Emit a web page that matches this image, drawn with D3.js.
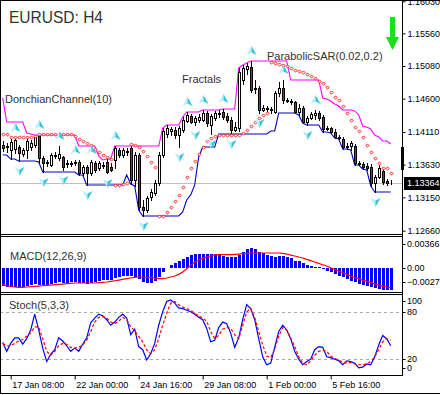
<!DOCTYPE html>
<html lang="en">
<head>
    <meta charset="UTF-8">
    <title>EURUSD: H4</title>
    <style>
        body { margin: 0; background: #fff; }
        svg { display: block; font-family: "Liberation Sans", Arial, sans-serif; }
    </style>
</head>
<body>

    <div id="chart"></div>

    <script src="https://d3js.org/d3.v7.min.js"></script>
    <script>

    // ---- data (H4 bars, 17 Jan 00:00 .. 8 Feb 00:00) ----
    const tickBars = [2, 18, 34, 50, 66, 82];
    const tickLabels = ["17 Jan 08:00", "22 Jan 00:00", "24 Jan 16:00", "29 Jan 08:00", "1 Feb 00:00", "5 Feb 16:00"];

    const open = [1.13919,1.13890,1.13846,1.13860,1.13890,1.13787,1.13846,1.13890,1.13919,1.14051,
        1.13728,1.13655,1.13625,1.13772,1.13728,1.13743,1.13640,1.13655,1.13655,1.13669,
        1.13508,1.13596,1.13508,1.13655,1.13581,1.13625,1.13669,1.13596,1.13699,1.13846,
        1.13772,1.13831,1.13875,1.13405,1.13772,1.13009,1.12965,1.13155,1.13214,1.13361,
        1.13772,1.14081,1.14125,1.14139,1.14066,1.14139,1.14272,1.14345,1.14257,1.14287,
        1.14287,1.14389,1.14213,1.14316,1.14375,1.14404,1.14345,1.14287,1.14139,1.14169,
        1.14874,1.15035,1.15065,1.14742,1.14756,1.14433,1.14463,1.14448,1.14404,1.14683,
        1.14756,1.14580,1.14566,1.14551,1.14404,1.14463,1.14257,1.14316,1.14360,1.14389,
        1.14331,1.14154,1.14169,1.14110,1.14037,1.14007,1.13890,1.13904,1.13904,1.13655,
        1.13640,1.13611,1.13596,1.13361,1.13449,1.13537,1.13390,1.13361];
    const high = [1.13978,1.13949,1.14007,1.14022,1.13919,1.13875,1.14022,1.13993,1.14037,1.14066,
        1.13758,1.13699,1.13802,1.13816,1.13904,1.13758,1.13699,1.13684,1.13699,1.13699,
        1.13625,1.13625,1.13699,1.13684,1.13684,1.13669,1.13713,1.13655,1.13904,1.13875,
        1.13875,1.13875,1.13904,1.13816,1.13802,1.13111,1.13170,1.13273,1.13405,1.13816,
        1.14169,1.14213,1.14184,1.14184,1.14198,1.14331,1.14404,1.14375,1.14345,1.14375,
        1.14433,1.14419,1.14375,1.14419,1.14433,1.14448,1.14389,1.14331,1.14257,1.15050,
        1.15094,1.15124,1.15153,1.14874,1.14786,1.14507,1.14492,1.14477,1.14712,1.14845,
        1.14874,1.14610,1.14595,1.14566,1.14521,1.14492,1.14345,1.14404,1.14433,1.14419,
        1.14360,1.14198,1.14184,1.14154,1.14066,1.14037,1.13949,1.13978,1.13934,1.13684,
        1.13669,1.13655,1.13640,1.13478,1.13625,1.13567,1.13420,1.13405];
    const low = [1.13831,1.13816,1.13713,1.13802,1.13684,1.13758,1.13728,1.13846,1.13890,1.13669,
        1.13523,1.13611,1.13611,1.13728,1.13699,1.13552,1.13596,1.13611,1.13625,1.13478,
        1.13478,1.13332,1.13478,1.13523,1.13552,1.13581,1.13508,1.13537,1.13581,1.13743,
        1.13743,1.13772,1.13346,1.13317,1.12965,1.12876,1.12935,1.13111,1.13185,1.13332,
        1.13743,1.14037,1.14066,1.14022,1.13890,1.14110,1.14257,1.14242,1.14213,1.14257,
        1.14272,1.14198,1.14081,1.14287,1.14331,1.14301,1.14257,1.14081,1.14125,1.14125,
        1.14815,1.14962,1.14698,1.14683,1.14389,1.14419,1.14404,1.14389,1.14389,1.14639,
        1.14536,1.14551,1.14521,1.14389,1.14360,1.14242,1.14213,1.14301,1.14301,1.14287,
        1.14110,1.14139,1.14095,1.14022,1.14007,1.13860,1.13860,1.13846,1.13625,1.13625,
        1.13567,1.13552,1.13317,1.13229,1.13434,1.13346,1.13332,1.13346];
    const close = [1.13875,1.13904,1.13963,1.13993,1.13802,1.13846,1.13978,1.13949,1.14037,1.13728,
        1.13655,1.13669,1.13772,1.13758,1.13787,1.13596,1.13655,1.13640,1.13669,1.13508,
        1.13596,1.13508,1.13669,1.13552,1.13655,1.13611,1.13523,1.13552,1.13875,1.13772,
        1.13846,1.13816,1.13405,1.13772,1.13009,1.12965,1.13141,1.13229,1.13361,1.13772,
        1.14125,1.14169,1.14154,1.14066,1.14169,1.14287,1.14360,1.14257,1.14316,1.14331,
        1.14389,1.14242,1.14345,1.14389,1.14389,1.14331,1.14287,1.14139,1.14184,1.14991,
        1.15050,1.15080,1.14727,1.14756,1.14433,1.14463,1.14448,1.14433,1.14683,1.14756,
        1.14580,1.14566,1.14551,1.14404,1.14463,1.14257,1.14316,1.14375,1.14389,1.14316,
        1.14154,1.14169,1.14110,1.14037,1.14022,1.13890,1.13904,1.13949,1.13655,1.13640,
        1.13596,1.13581,1.13361,1.13449,1.13581,1.13376,1.13361,1.13364];

    // 9 bars before the first one, only needed for the channel
    const preHigh = [1.14610,1.14169,1.14139,1.14169,1.14139,1.14257,1.14095,1.14081,1.14066];
    const preLow = [1.13846,1.13816,1.13772,1.13875,1.13919,1.13846,1.13890,1.13816,1.13846];

    const sar = [1.14081,1.14081,1.14037,1.14037,1.14037,1.14037,1.14037,1.14037,1.14051,1.14081,
        1.14081,1.14081,1.14081,1.14081,1.14081,1.14081,1.14081,1.14081,1.14051,1.14007,
        1.13978,1.13949,1.13919,1.13860,1.13816,1.13772,1.13743,1.13706,1.13332,1.13332,
        1.13339,1.13354,1.13934,1.13919,1.13890,1.13831,1.13758,1.13669,1.13596,1.12869,
        1.12880,1.12939,1.13013,1.13089,1.13185,1.13307,1.13454,1.13577,1.13691,1.13787,
        1.13890,1.13978,1.14029,1.14051,1.14059,1.14066,1.14066,1.14066,1.14066,1.14073,
        1.14095,1.14139,1.14198,1.14257,1.14316,1.14360,1.14382,1.15138,1.15124,1.15109,
        1.15094,1.15080,1.15050,1.15028,1.15010,1.14987,1.14962,1.14937,1.14899,1.14866,
        1.14834,1.14775,1.14702,1.14628,1.14580,1.14492,1.14389,1.14287,1.14188,1.14125,
        1.14037,1.13919,1.13816,1.13724,1.13659,1.13577,1.13577,1.13507];

    const fractalUp = [3, 9, 14, 18, 22, 28, 46, 50, 55, 62, 70, 78];
    const fractalDown = [4, 10, 15, 21, 26, 35, 44, 48, 52, 57, 64, 76, 93];

    const macd = [-0.00216,-0.00224,-0.00224,-0.00224,-0.00228,-0.00224,-0.00216,-0.00205,-0.00193,-0.00197,
        -0.00205,-0.00197,-0.00185,-0.00177,-0.00169,-0.00173,-0.00173,-0.00169,-0.00165,-0.00173,
        -0.00177,-0.00185,-0.00177,-0.00169,-0.00157,-0.00146,-0.00146,-0.00146,-0.00118,-0.00106,
        -0.00094,-0.00091,-0.00098,-0.00106,-0.00134,-0.00165,-0.00177,-0.00173,-0.00153,-0.00106,
        -0.00047,0.00004,0.00031,0.00059,0.00083,0.00110,0.00134,0.00150,0.00161,0.00165,
        0.00169,0.00169,0.00165,0.00161,0.00157,0.00146,0.00134,0.00126,0.00126,0.00157,
        0.00193,0.00224,0.00232,0.00224,0.00193,0.00173,0.00157,0.00142,0.00134,0.00138,
        0.00138,0.00126,0.00114,0.00087,0.00079,0.00055,0.00035,0.00020,0.00016,0.00008,
        -0.00012,-0.00031,-0.00051,-0.00071,-0.00091,-0.00110,-0.00130,-0.00150,-0.00169,-0.00189,
        -0.00201,-0.00209,-0.00228,-0.00240,-0.00248,-0.00256,-0.00260,-0.00260];
    const signal = [-0.00193,-0.00209,-0.00220,-0.00224,-0.00228,-0.00228,-0.00224,-0.00220,-0.00216,-0.00213,
        -0.00209,-0.00205,-0.00201,-0.00197,-0.00193,-0.00189,-0.00185,-0.00181,-0.00177,-0.00177,
        -0.00177,-0.00177,-0.00177,-0.00177,-0.00173,-0.00169,-0.00165,-0.00157,-0.00150,-0.00142,
        -0.00134,-0.00126,-0.00118,-0.00110,-0.00106,-0.00106,-0.00110,-0.00114,-0.00118,-0.00126,
        -0.00126,-0.00118,-0.00106,-0.00094,-0.00075,-0.00047,-0.00008,0.00031,0.00067,0.00094,
        0.00114,0.00130,0.00142,0.00154,0.00157,0.00157,0.00157,0.00157,0.00161,0.00165,
        0.00169,0.00173,0.00177,0.00177,0.00177,0.00177,0.00177,0.00177,0.00177,0.00177,
        0.00173,0.00165,0.00153,0.00142,0.00130,0.00118,0.00102,0.00087,0.00071,0.00055,
        0.00039,0.00024,0.00004,-0.00016,-0.00035,-0.00055,-0.00075,-0.00094,-0.00110,-0.00126,
        -0.00142,-0.00157,-0.00173,-0.00189,-0.00201,-0.00213,-0.00224,-0.00232];

    const stochK = [41,30,40,47,47,39,46,57,77,57, 34,17,26,32,47,43,37,30,34,30,
        39,47,66,72,77,75,70,63,67,73, 77,72,51,58,36,32,19,27,40,63,
        80,93,95,91,85,84,82,80,77,73, 70,59,42,44,60,67,65,53,35,47,
        70,89,84,70,46,23,13,15,35,55, 63,57,46,30,20,13,17,20,32,36,
        35,23,22,20,18,13,18,17,15,9, 10,14,13,23,38,50,46,37];
    const stochD = [40,37,37,40,43,45,49,53,61,61, 46,30,25,30,37,40,39,35,34,35,
        38,44,55,67,73,74,72,67,65,68, 73,70,61,56,49,42,32,27,32,46,
        63,78,91,93,89,86,84,82,78,75, 72,68,55,46,50,58,60,59,51,46,
        63,80,84,73,55,38,24,22,33,49, 60,57,47,36,23,15,13,18,25,30,
        31,30,24,21,19,16,15,16,14,13, 13,14,17,23,32,42,46,44];

    const priceTicks = [1.16030, 1.15560, 1.15080, 1.14600, 1.14110, 1.13630, 1.13150, 1.12660];
    const lastPrice = 1.13364;
    const macdTicks = [0.00366, 0, -0.00277];
    const stochTicks = [100, 80, 20, 0];
    const stochLevels = [80, 20];

    // ---- set up the page ----
    const width = 440, height = 395;
    const axisX = 402.5;

    const svg = d3.select("#chart")
        .append("svg")
        .attr("width", width)
        .attr("height", height);

    svg.append("rect").attr("width", width).attr("height", height).attr("fill", "#fff");

    // scales
    const x = d3.scaleLinear().domain([0, 97]).range([2.7, 390.7]);
    const y = d3.scaleLinear().domain([1.126115, 1.160492]).range([234, 0]);
    const yMacd = d3.scaleLinear().domain([-0.00277, 0.00366]).range([291.5, 237]);
    const yStoch = d3.scaleLinear().domain([0, 100]).range([375, 296]);

    const px = v => Math.round(v);

    // clip each panel
    const defs = svg.append("defs");
    [["clipPrice", 0, 235], ["clipMacd", 237, 55], ["clipStoch", 295, 80]].forEach(c => {
        defs.append("clipPath").attr("id", c[0])
            .append("rect").attr("x", 1).attr("y", c[1]).attr("width", 401).attr("height", c[2]);
    });

    // ---- price panel ----
    const gPrice = svg.append("g").attr("clip-path", "url(#clipPrice)");

    // last price line
    gPrice.append("line")
        .attr("x1", 0).attr("x2", axisX)
        .attr("y1", px(y(lastPrice)) + 0.5).attr("y2", px(y(lastPrice)) + 0.5)
        .attr("stroke", "#c0c0c0");

    // donchian channel (10)
    const allHigh = preHigh.concat(high), allLow = preLow.concat(low);
    const dcUpper = high.map((d, i) => d3.max(allHigh.slice(i, i + 10)));
    const dcLower = low.map((d, i) => d3.min(allLow.slice(i, i + 10)));

    const priceLine = d3.line().x((d, i) => x(i)).y(d => y(d));
    gPrice.append("path").attr("d", priceLine(dcUpper))
        .attr("fill", "none").attr("stroke", "#ff00ff").attr("stroke-width", 1.1);
    gPrice.append("path").attr("d", priceLine(dcLower))
        .attr("fill", "none").attr("stroke", "#0000cc").attr("stroke-width", 1.1);

    // candles
    const bars = d3.range(open.length);
    const candle = gPrice.append("g").selectAll("g")
        .data(bars)
        .join("g");

    candle.append("line")
        .attr("x1", i => px(x(i)) + 0.5).attr("x2", i => px(x(i)) + 0.5)
        .attr("y1", i => px(y(high[i]))).attr("y2", i => px(y(low[i])) + 1)
        .attr("stroke", "#000");

    candle.append("rect")
        .attr("x", i => px(x(i)) - 0.5)
        .attr("width", 2)
        .attr("y", i => px(y(Math.max(open[i], close[i]))) + 0.5)
        .attr("height", i => Math.max(0, px(y(Math.min(open[i], close[i]))) - px(y(Math.max(open[i], close[i])))))
        .attr("fill", i => close[i] < open[i] ? "#ff0000" : "#ffffff")
        .attr("stroke", "#000")
        .attr("shape-rendering", "crispEdges");

    // parabolic sar
    gPrice.append("g").selectAll("path")
        .data(sar)
        .join("path")
        .attr("transform", (d, i) => `translate(${px(x(i)) + 0.5},${px(y(d)) + 0.5})`)
        .attr("d", "M0,-1.6L1.6,0L0,1.6L-1.6,0Z")
        .attr("fill", "#fff")
        .attr("stroke", "#ff0000")
        .attr("stroke-width", 0.9);

    // fractals
    const upArrow = [["M0,-5L-5,4L0,1.5Z", "#b8f0f6"], ["M0,-5L5,4L0,1.5Z", "#34c6d8"]];
    const downArrow = [["M0,5L-5,-4L0,-1.5Z", "#b8f0f6"], ["M0,5L5,-4L0,-1.5Z", "#34c6d8"]];

    const fUp = gPrice.append("g").selectAll("g")
        .data(fractalUp).join("g")
        .attr("transform", i => `translate(${px(x(i)) + 0.5},${y(high[i]) - 10})`);
    upArrow.forEach(p => fUp.append("path").attr("d", p[0]).attr("fill", p[1]));

    const fDown = gPrice.append("g").selectAll("g")
        .data(fractalDown).join("g")
        .attr("transform", i => `translate(${px(x(i)) + 0.5},${y(low[i]) + 10})`);
    downArrow.forEach(p => fDown.append("path").attr("d", p[0]).attr("fill", p[1]));

    // price axis
    svg.append("g")
        .attr("transform", `translate(${axisX},0)`)
        .call(d3.axisRight(y).tickValues(priceTicks).tickFormat(d3.format(".5f")).tickSize(3).tickPadding(2).tickSizeOuter(0))
        .call(g => g.select(".domain").remove())
        .attr("font-family", "Liberation Sans, Arial, sans-serif")
        .attr("font-size", 9)
        .selectAll("text").attr("fill", "#000");

    // last price box
    svg.append("rect")
        .attr("x", 404).attr("y", px(y(lastPrice)) - 6)
        .attr("width", 40).attr("height", 13)
        .attr("fill", "#000");
    svg.append("text")
        .attr("x", 407).attr("y", y(lastPrice)).attr("dy", "0.35em")
        .attr("font-size", 9).attr("fill", "#fff")
        .text(d3.format(".5f")(lastPrice));

    // black marker on the scale
    svg.append("rect").attr("x", 401).attr("y", 147).attr("width", 3).attr("height", 23).attr("fill", "#000");

    // green arrow
    svg.append("path")
        .attr("d", "M390,17H395V37H399L392.5,50L386,37H390Z")
        .attr("fill", "#1adf1a");

    // ---- macd panel ----
    const gMacd = svg.append("g").attr("clip-path", "url(#clipMacd)");

    gMacd.append("g").selectAll("rect")
        .data(macd)
        .join("rect")
        .attr("x", (d, i) => px(x(i)) - 1)
        .attr("width", 3)
        .attr("y", d => Math.min(yMacd(d), yMacd(0)))
        .attr("height", d => Math.abs(yMacd(d) - yMacd(0)))
        .attr("fill", "#0000ff")
        .attr("shape-rendering", "crispEdges");

    gMacd.append("path")
        .attr("d", d3.line().x((d, i) => x(i)).y(d => yMacd(d))(signal))
        .attr("fill", "none").attr("stroke", "#ff0000").attr("stroke-width", 1.2);

    macdTicks.forEach((t, k) => {
        const ty = yMacd(t) + [6.5, 0, -9.5][k];
        svg.append("line").attr("x1", axisX).attr("x2", axisX + 3)
            .attr("y1", px(ty) + 0.5).attr("y2", px(ty) + 0.5).attr("stroke", "#000");
        svg.append("text").attr("x", 407).attr("y", ty).attr("dy", "0.35em")
            .attr("font-size", 9).attr("fill", "#000")
            .text(t === 0 ? "0.00" : d3.format(".5f")(t));
    });

    // ---- stochastic panel ----
    const gStoch = svg.append("g").attr("clip-path", "url(#clipStoch)");

    stochLevels.forEach(l => {
        gStoch.append("line")
            .attr("x1", 0).attr("x2", axisX)
            .attr("y1", px(yStoch(l)) + 0.5).attr("y2", px(yStoch(l)) + 0.5)
            .attr("stroke", "#a8a8a8").attr("stroke-dasharray", "3,3");
    });

    const stochLine = d3.line().x((d, i) => x(i)).y(d => yStoch(d));
    gStoch.append("path").attr("d", stochLine(stochK))
        .attr("fill", "none").attr("stroke", "#0000ff").attr("stroke-width", 1.2);
    gStoch.append("path").attr("d", stochLine(stochD))
        .attr("fill", "none").attr("stroke", "#ff0000").attr("stroke-width", 1.2)
        .attr("stroke-dasharray", "3,2");

    stochTicks.forEach((t, k) => {
        const ty = yStoch(t) + [5, 0, 0, -7][k];
        svg.append("line").attr("x1", axisX).attr("x2", axisX + 3)
            .attr("y1", px(ty) + 0.5).attr("y2", px(ty) + 0.5).attr("stroke", "#000");
        svg.append("text").attr("x", 407).attr("y", ty).attr("dy", "0.35em")
            .attr("font-size", 9).attr("fill", "#000")
            .text(t);
    });

    // ---- time axis ----
    svg.append("g")
        .attr("transform", "translate(0,375.5)")
        .call(d3.axisBottom(x).tickValues(tickBars).tickFormat((d, i) => tickLabels[i]).tickSize(4).tickSizeOuter(0))
        .call(g => g.select(".domain").remove())
        .attr("font-family", "Liberation Sans, Arial, sans-serif")
        .attr("font-size", 9)
        .call(g => g.selectAll("text").attr("text-anchor", "start").attr("x", 1).attr("y", 6).attr("fill", "#000"));

    // ---- frame ----
    const frame = [
        [0, 0.5, width, 0.5], [0.5, 0, 0.5, 394], [0, 393.5, width, 393.5],
        [axisX, 0, axisX, 376],
        [0, 234.5, axisX, 234.5], [0, 236.5, axisX, 236.5],
        [0, 292.5, axisX, 292.5], [0, 294.5, axisX, 294.5],
        [0, 375.5, axisX, 375.5]
    ];
    svg.append("g").selectAll("line")
        .data(frame).join("line")
        .attr("x1", d => d[0]).attr("y1", d => d[1])
        .attr("x2", d => d[2]).attr("y2", d => d[3])
        .attr("stroke", "#000");

    // ---- labels ----
    svg.append("text").attr("x", 9).attr("y", 23)
        .attr("font-size", 17).attr("fill", "#333")
        .attr("textLength", 94).attr("lengthAdjust", "spacingAndGlyphs")
        .text("EURUSD: H4");

    const names = [["DonchianChannel(10)", 5, 103], ["Fractals", 182, 83],
        ["ParabolicSAR(0.02,0.2)", 267, 60], ["MACD(12,26,9)", 10, 260], ["Stoch(5,3,3)", 9, 309]];
    svg.append("g").selectAll("text")
        .data(names).join("text")
        .attr("x", d => d[1]).attr("y", d => d[2])
        .attr("font-size", 11).attr("fill", "#333")
        .text(d => d[0]);

    </script>

</body>
</html>
